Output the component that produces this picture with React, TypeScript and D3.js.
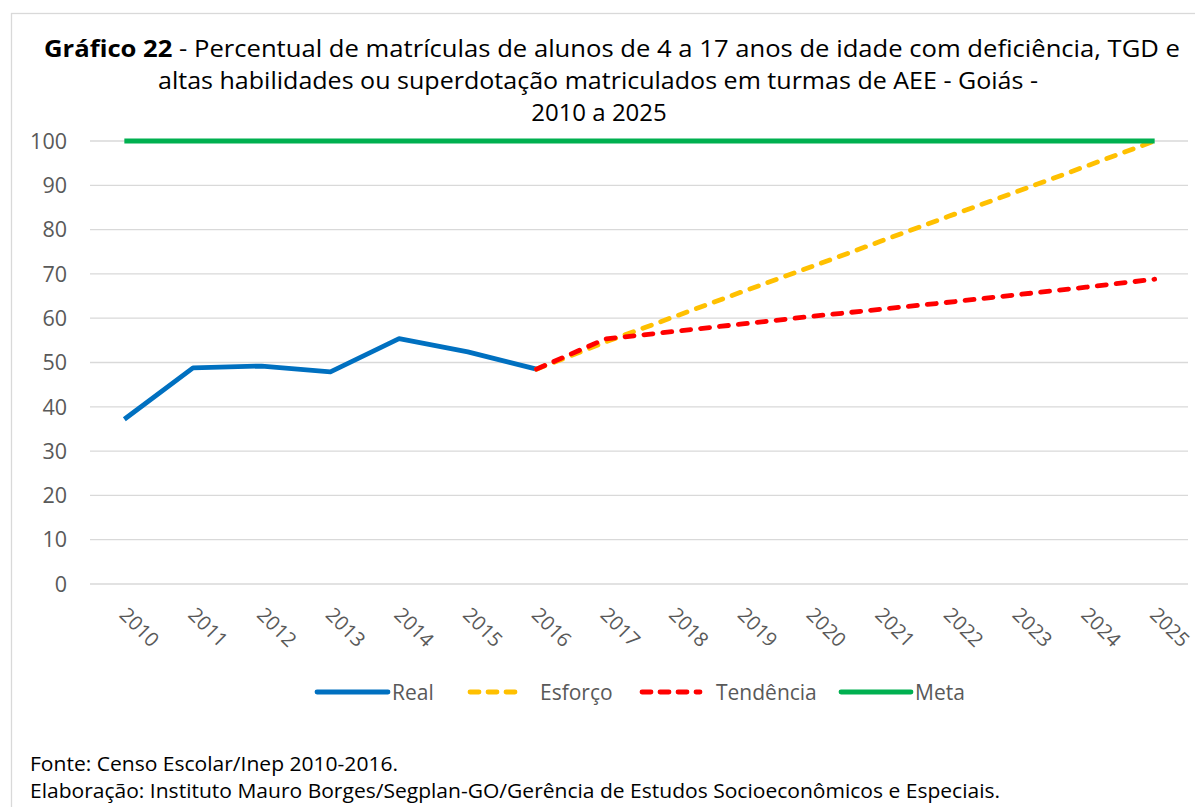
import React from 'react';
import * as d3 from 'd3';

const years = ['2010', '2011', '2012', '2013', '2014', '2015', '2016', '2017',
  '2018', '2019', '2020', '2021', '2022', '2023', '2024', '2025'];
const realYears = ['2010', '2011', '2012', '2013', '2014', '2015', '2016'];
const realValues = [37.2, 48.8, 49.2, 47.9, 55.4, 52.4, 48.5];
const projYears = ['2016', '2017', '2018', '2019', '2020', '2021', '2022', '2023', '2024', '2025'];
const esforcoValues = [48.5, 54.6, 60.3, 66.0, 71.6, 77.3, 83.0, 88.6, 94.3, 100];
const tendenciaValues = [48.5, 55.3, 57.0, 58.7, 60.4, 62.0, 63.6, 65.3, 67.0, 68.8];
const metaValues = [100, 100, 100, 100, 100, 100, 100, 100, 100, 100, 100, 100, 100, 100, 100, 100];
const yTicks = [0, 10, 20, 30, 40, 50, 60, 70, 80, 90, 100];

const W = 1195;
const H = 807;
const FONT = '"Open Sans", Lato, sans-serif';
const GREY = '#595959';

const x = d3.scalePoint<string>().domain(years).range([90, 1189]).padding(0.5);
const y = d3.scaleLinear().domain([0, 100]).range([584, 141]);

type Pt = { year: string; value: number };
const line = d3.line<Pt>().x(d => x(d.year) as number).y(d => y(d.value));

const zip = (ks: string[], vs: number[]): Pt[] => ks.map((k, i) => ({ year: k, value: vs[i] }));

const series = [
  { name: 'Real', color: '#0070C0', dash: null, data: zip(realYears, realValues) },
  { name: 'Esforço', color: '#FFC000', dash: '9 10', data: zip(projYears, esforcoValues) },
  { name: 'Tendência', color: '#FF0000', dash: '9 10', data: zip(projYears, tendenciaValues) },
  { name: 'Meta', color: '#00B050', dash: null, data: zip(years, metaValues) },
];

// legend layout: sample x1, x2, text x
const legendPos = [
  [317, 388, 392],
  [470, 522, 540],
  [642, 700, 716],
  [841, 911, 915],
];

export default function App() {
  return (
    <div style={{ position: 'fixed', left: 0, top: 0 }}>
      <svg width={W} height={H} style={{ display: 'block', background: '#fff' }}>
        <rect x={11.5} y={13.5} width={W} height={H} fill="#fff" stroke="#D9D9D9" strokeWidth={1.3} />

        <g fontFamily={FONT} fill="#000" fontSize={24}>
          <text x={44} y={57} textLength={1136} lengthAdjust="spacingAndGlyphs">
            <tspan fontWeight="bold">Gráfico 22</tspan>
            <tspan> - Percentual de matrículas de alunos de 4 a 17 anos de idade com deficiência, TGD e</tspan>
          </text>
          <text x={158} y={89} textLength={880} lengthAdjust="spacingAndGlyphs">altas habilidades ou superdotação  matriculados em turmas de AEE - Goiás -</text>
          <text x={599} y={121} textAnchor="middle">2010 a 2025</text>
        </g>

        {yTicks.map(t => (
          <g key={t}>
            <line x1={90} x2={1188} y1={y(t)} y2={y(t)} stroke="#D9D9D9" strokeWidth={1.3} />
            <text x={67} y={y(t)} dy="0.36em" textAnchor="end" fontFamily={FONT} fontSize={21.5} fill={GREY}>{t}</text>
          </g>
        ))}

        {years.map(yr => {
          const px = (x(yr) as number) - 6;
          return (
            <text key={yr} transform={`translate(${px},616) rotate(45)`} fontFamily={FONT} fontSize={20} fill={GREY}>{yr}</text>
          );
        })}

        {series.map(s => (
          <path key={s.name} d={line(s.data) || ''} fill="none" stroke={s.color} strokeWidth={4.8}
            strokeDasharray={s.dash || undefined} strokeLinecap={s.dash ? 'round' : 'butt'} strokeLinejoin="round" />
        ))}

        {series.map((s, i) => {
          const [x1, x2, tx] = legendPos[i];
          return (
            <g key={s.name}>
              <line x1={x1} x2={x2} y1={692} y2={692} stroke={s.color} strokeWidth={4.8}
                strokeDasharray={s.dash ? '9 9' : undefined} strokeLinecap="round" />
              <text x={tx} y={692} dy="0.36em" fontFamily={FONT} fontSize={21} fill={GREY}>{s.name}</text>
            </g>
          );
        })}

        <g fontFamily={FONT} fontSize={20.5} fill="#000">
          <text x={30} y={771} textLength={368} lengthAdjust="spacingAndGlyphs">Fonte: Censo Escolar/Inep 2010-2016.</text>
          <text x={30} y={798} textLength={970} lengthAdjust="spacingAndGlyphs">Elaboração: Instituto Mauro Borges/Segplan-GO/Gerência de Estudos Socioeconômicos e Especiais.</text>
        </g>
      </svg>
    </div>
  );
}
